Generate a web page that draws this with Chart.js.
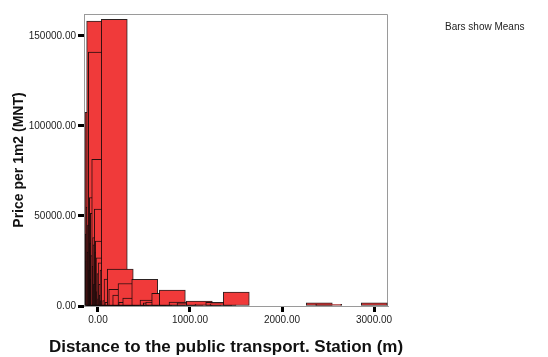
<!DOCTYPE html>
<html>
<head>
<meta charset="utf-8">
<script src="https://cdn.jsdelivr.net/npm/chart.js@4/dist/chart.umd.min.js"></script>
<style>
  body { margin: 0; background: #fff; }
  #wrap { width: 548px; height: 357px; position: relative; }
</style>
</head>
<body>
<div id="wrap"><canvas id="grafico"></canvas></div>
<script>
// Datos: distancia a la estación (m) y precio medio por m2 (MNT)
const distance = [
  0, 3, 7, 11, 18, 22, 27, 36, 39, 47, 50, 54, 58, 62, 73, 78, 83, 87, 92,
  101, 107, 112, 120, 125, 130, 137, 143, 149, 155, 163, 168, 177, 192, 207,
  217, 242, 258, 301, 359, 366, 410, 508, 598, 634, 660, 725, 808, 913, 1000,
  1101, 1196, 1312, 1359, 1503, 2405, 2508, 3003
];
const meanPrice = [
  107600, 40000, 25000, 55000, 158300, 30000, 45000, 141000, 20000, 60200,
  35000, 15000, 51500, 28000, 81500, 22000, 38000, 34000, 12000,
  53900, 30000, 36000, 26700, 8000, 18000, 4000, 24000, 12000, 6000, 20000,
  3000, 159300, 3000, 15000,
  2000, 20500, 9300, 6100, 12500, 2000, 4400, 14800, 3300, 1700, 2200, 7000,
  8800, 2200, 1700, 2800, 900, 2000, 1200, 7800, 1700, 900, 1700
];
const xTicks = [0, 1000, 2000, 3000];
const yTicks = [0, 50000, 100000, 150000];

const frame = {
  id: 'frame',
  beforeDatasetsDraw(chart) {
    const { ctx, chartArea: a } = chart;
    ctx.save();
    ctx.strokeStyle = '#9a9a9a';
    ctx.lineWidth = 1;
    ctx.beginPath();
    ctx.moveTo(a.left, a.top + 0.5);
    ctx.lineTo(a.right - 0.5, a.top + 0.5);
    ctx.lineTo(a.right - 0.5, a.bottom);
    ctx.stroke();
    ctx.restore();
  },
  afterDraw(chart) {
    const ctx = chart.ctx;
    ctx.save();
    ctx.fillStyle = '#222';
    ctx.font = '10px "Liberation Sans", Arial, sans-serif';
    ctx.textBaseline = 'middle';
    ctx.fillText('Bars show Means', 445, 27);
    // título del eje x
    ctx.fillStyle = '#111';
    ctx.font = 'bold 17px "Liberation Sans", Arial, sans-serif';
    ctx.textAlign = 'center';
    ctx.fillText('Distance to the public transport. Station (m)', 226, 347);
    ctx.restore();
  }
};

const config = {
  type: 'bar',
  data: {
    datasets: [{
      data: distance.map((d, i) => ({ x: d, y: meanPrice[i] })),
      backgroundColor: 'rgb(240, 58, 58)',
      borderColor: 'rgba(20, 10, 10, 0.9)',
      borderWidth: 1,
      borderSkipped: false,
      barThickness: 26,
      grouped: false
    }]
  },
  options: {
    animation: false,
    responsive: true,
    maintainAspectRatio: false,
    layout: { padding: { left: 0, right: 160, top: 14, bottom: 0 } },
    plugins: { legend: { display: false }, tooltip: { enabled: false } },
    scales: {
      x: {
        type: 'linear',
        offset: false,
        min: -152,
        max: 3152,
        afterBuildTicks: (s) => { s.ticks = xTicks.map(v => ({ value: v })); },
        afterFit: (s) => { s.height = 51; },
        grid: { offset: false, drawOnChartArea: false, tickLength: 6, tickColor: '#000', tickWidth: 3 },
        border: { color: '#9a9a9a', width: 1 },
        ticks: {
          maxRotation: 0,
          padding: 2,
          color: '#222',
          font: { family: '"Liberation Sans", Arial', size: 10 },
          callback: (v) => Number(v).toFixed(2)
        }
      },
      y: {
        min: 0,
        max: 162200,
        afterBuildTicks: (s) => { s.ticks = yTicks.map(v => ({ value: v })); },
        afterFit: (s) => { s.width = 84; },
        grid: { drawOnChartArea: false, tickLength: 6, tickColor: '#000', tickWidth: 3 },
        border: { color: '#9a9a9a', width: 1 },
        ticks: {
          padding: 2,
          color: '#222',
          font: { family: '"Liberation Sans", Arial', size: 10 },
          callback: (v) => Number(v).toFixed(2)
        },
        title: {
          display: true,
          text: 'Price per 1m2 (MNT)',
          color: '#111',
          font: { family: '"Liberation Sans", Arial', size: 14, weight: 'bold' },
          padding: { top: 11, bottom: 0 }
        }
      }
    }
  },
  plugins: [frame]
};

window.addEventListener('DOMContentLoaded', () => {
  const ctx = document.getElementById('grafico').getContext('2d');
  new Chart(ctx, config);
});
</script>
</body>
</html>
